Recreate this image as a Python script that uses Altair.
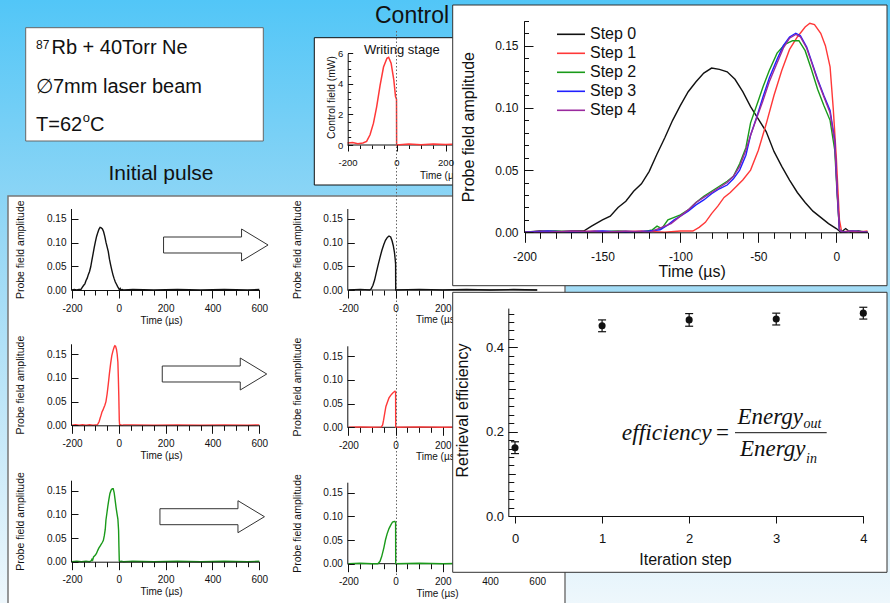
import altair as alt
import pandas as pd

W, H = 890, 603

# ---------------- data ----------------
STEP_LABELS = ["Step 0", "Step 1", "Step 2", "Step 3", "Step 4"]
STEP_COLORS = ["#111111", "#ff3838", "#1a9a1a", "#2020ff", "#9a2a9e"]

S0_T = [-200, -190, -180, -170, -162, -157, -150, -145, -140, -135, -130, -125, -120, -115, -110, -105,
        -100, -95, -90, -85, -80, -75, -70, -65, -60, -55, -50, -45, -40, -35, -30, -25, -20, -15, -10,
        -5, 0, 3, 6, 9, 14, 20]
S0_V = [0.000, 0.001, 0.000, 0.001, 0.001, 0.005, 0.010, 0.013, 0.020, 0.025, 0.033, 0.039, 0.049, 0.063,
        0.076, 0.090, 0.102, 0.113, 0.121, 0.128, 0.132, 0.131, 0.129, 0.123, 0.113, 0.101, 0.091, 0.081,
        0.065, 0.053, 0.042, 0.032, 0.024, 0.017, 0.012, 0.007, 0.003, 0.000, 0.003, 0.000, 0.001, 0.000]

S1_T = [-200, -185, -170, -155, -140, -125, -110, -100, -92, -88, -84, -80, -76, -72, -68, -64, -60, -55,
        -50, -45, -40, -35, -30, -25, -20, -17, -14, -10, -7, -4, -2, 0, 1, 2, 3.5, 8, 14, 20]
S1_V = [0.000, 0.001, 0.000, 0.001, 0.000, 0.001, 0.000, 0.001, 0.001, 0.004, 0.008, 0.015, 0.021, 0.028,
        0.032, 0.037, 0.042, 0.050, 0.066, 0.087, 0.110, 0.130, 0.147, 0.157, 0.165, 0.168, 0.167, 0.160,
        0.150, 0.133, 0.100, 0.060, 0.035, 0.010, 0.000, 0.001, 0.000, 0.001]

S2_T = [-200, -180, -160, -140, -125, -118, -115, -112, -108, -104, -100, -95, -90, -85, -80, -75, -70,
        -66, -62, -58, -55, -50, -47, -43, -38, -33, -28, -24, -20, -16, -12, -8, -4, -1, 0.5, 2, 4, 10, 20]
S2_V = [0.000, 0.001, 0.000, 0.001, 0.000, 0.002, 0.005, 0.003, 0.010, 0.012, 0.014, 0.018, 0.024, 0.029,
        0.033, 0.037, 0.041, 0.045, 0.055, 0.068, 0.088, 0.106, 0.117, 0.130, 0.144, 0.151, 0.154, 0.154,
        0.146, 0.131, 0.115, 0.102, 0.090, 0.066, 0.031, 0.002, 0.000, 0.001, 0.000]

S3_T = [-200, -185, -170, -150, -135, -120, -113, -108, -104, -100, -95, -90, -85, -80, -75, -70, -66,
        -62, -58, -55, -51, -47, -43, -38, -34, -30, -26, -23, -19, -16, -12, -8, -4, -1, 0.5, 2, 4, 10, 20]
S3_V = [0.000, 0.001, 0.000, 0.001, 0.000, 0.001, 0.002, 0.006, 0.010, 0.013, 0.017, 0.022, 0.026, 0.031,
        0.035, 0.038, 0.043, 0.050, 0.062, 0.078, 0.093, 0.109, 0.124, 0.139, 0.150, 0.157, 0.160, 0.158,
        0.149, 0.138, 0.123, 0.110, 0.098, 0.074, 0.034, 0.002, 0.000, 0.001, 0.000]

S4_T = [-200, -185, -170, -150, -135, -120, -112, -106, -100, -95, -90, -85, -80, -75, -70, -66, -62,
        -58, -55, -51, -47, -43, -38, -34, -30, -26, -23, -19, -16, -12, -8, -4, -1, 0.5, 2, 4, 10, 20]
S4_V = [0.000, 0.000, 0.001, 0.000, 0.001, 0.000, 0.004, 0.007, 0.013, 0.018, 0.024, 0.028, 0.032, 0.036,
        0.040, 0.045, 0.053, 0.066, 0.078, 0.092, 0.106, 0.121, 0.136, 0.148, 0.156, 0.159, 0.157, 0.148,
        0.137, 0.122, 0.109, 0.096, 0.072, 0.034, 0.002, 0.000, 0.001, 0.000]

TAIL_T = [60, 150, 250, 350, 450, 550, 600]
TAIL_V = [0.001, 0.000, 0.001, 0.000, 0.001, 0.000, 0.001]

OUT0_T = [-200, -150, -110, -104, -96, -89, -82, -74, -66, -58, -50, -43, -35, -28, -21, -15, -10, -5, -2,
          0, 0.5, 100, 200, 300, 400, 500, 600]
OUT0_V = [0.000, 0.001, 0.000, 0.002, 0.010, 0.021, 0.036, 0.053, 0.069, 0.084, 0.096, 0.105, 0.111, 0.114,
          0.112, 0.104, 0.094, 0.080, 0.066, 0.055, 0.000, 0.001, 0.000, 0.001, 0.000, 0.001, 0.000]
OUT1_T = [-200, -150, -100, -60, -55, -51, -46, -41, -34, -28, -20, -13, -6, -3, 0, 0.5, 100, 200, 300,
          400, 500, 600]
OUT1_V = [0.000, 0.001, 0.000, 0.001, 0.005, 0.015, 0.030, 0.044, 0.054, 0.062, 0.068, 0.072, 0.075, 0.076,
          0.074, 0.000, 0.001, 0.000, 0.001, 0.000, 0.001, 0.000]
OUT2_T = [-200, -150, -100, -75, -66, -59, -50, -43, -36, -28, -20, -13, -6, -3, 0, 0.5, 100, 200, 300,
          400, 500, 600]
OUT2_V = [0.000, 0.001, 0.000, 0.000, 0.005, 0.015, 0.033, 0.050, 0.063, 0.074, 0.082, 0.088, 0.089, 0.089,
          0.087, 0.000, 0.001, 0.000, 0.001, 0.000, 0.001, 0.000]

CTRL_T = [-200, -179, -158, -137, -122, -108, -94, -81, -67, -53, -39, -32, -22, -11, -4, 0, 0.5, 50, 100,
          150, 200, 250, 300]
CTRL_V = [0.13, 0.17, 0.09, 0.13, 0.24, 0.67, 1.43, 2.5, 3.9, 5.1, 5.67, 5.74, 5.35, 4.26, 3.17, 3.0, 0.0,
          0.06, 0.02, 0.07, 0.03, 0.06, 0.03]

ITER = [0, 1, 2, 3, 4]
EFF = [0.162, 0.451, 0.465, 0.467, 0.481]
EFF_ERR = [0.014, 0.014, 0.015, 0.014, 0.014]

# ---------------- helpers ----------------
ONE = pd.DataFrame({"a": [0.0]})
SANS = "Liberation Sans"
SERIF = "Liberation Serif"
INK = "#111111"
RED = STEP_COLORS[1]
GREEN = STEP_COLORS[2]
INT_EXPR = "datum.value < 0 ? '-' + format(-datum.value, 'd') : format(datum.value, 'd')"
F2_EXPR = "format(datum.value, '.2f')"
F1_EXPR = "format(datum.value, '.1f')"


def qs(domain, rng):
    return alt.Scale(domain=domain, range=rng, nice=False, zero=False)


def rect(x0, x1, y0, y1, fill, stroke="transparent", sw=1.0):
    return alt.Chart(ONE).mark_rect(fill=fill, stroke=stroke, strokeWidth=sw).encode(
        x=alt.value(x0), x2=alt.value(x1), y=alt.value(y0), y2=alt.value(y1))


def label(txt, x, y, size, align="left", baseline="alphabetic", font=SANS, style="normal", color=INK):
    return alt.Chart(ONE).mark_text(text=txt, align=align, baseline=baseline, font=font, fontSize=size,
                                    fontStyle=style, color=color).encode(x=alt.value(x), y=alt.value(y))


def curve(t, v, xs, ys, color, sw=1.2):
    df = pd.DataFrame({"t": t, "v": v})
    return alt.Chart(df).mark_line(color=color, strokeWidth=sw).encode(
        x=alt.X("t:Q", scale=xs, axis=None), y=alt.Y("v:Q", scale=ys, axis=None))


def base_rule(xs, ys, x0, x1):
    df = pd.DataFrame({"x0": [x0], "x1": [x1], "y": [0.0]})
    return alt.Chart(df).mark_rule(color=INK, strokeWidth=1).encode(
        x=alt.X("x0:Q", scale=xs, axis=None), x2="x1:Q", y=alt.Y("y:Q", scale=ys, axis=None))


def xaxis(xs, ypix, **kw):
    return alt.Chart(ONE).mark_point(opacity=0).encode(
        x=alt.X("a:Q", scale=xs, axis=alt.Axis(orient="bottom", offset=ypix - H, zindex=1, **kw)),
        y=alt.value(-100))


def yaxis(ys, xpix, orient="left", **kw):
    off = -xpix if orient == "left" else xpix - W
    return alt.Chart(ONE).mark_point(opacity=0).encode(
        y=alt.Y("a:Q", scale=ys, axis=alt.Axis(orient=orient, offset=off, zindex=1, **kw)),
        x=alt.value(-100))


def ticks(values, size):
    return dict(values=values, ticks=True, tickSize=size, labels=False, domain=False, title="")


def labs(values, pad, fs, expr, domain=True, title="", **extra):
    return dict(values=values, ticks=False, tickSize=0, labelPadding=pad, labelFontSize=fs,
                labelExpr=expr, domain=domain, title=title, **extra)


layers = []
axes = []

# ---------------- background & info ----------------
grad = alt.LinearGradient(gradient="linear", x1=0, x2=0, y1=0, y2=1, stops=[
    alt.GradientStop(color="#52c6f7", offset=0),
    alt.GradientStop(color="#98d8f5", offset=0.4),
    alt.GradientStop(color="#eef7fc", offset=1)])
layers.append(rect(0, W, 0, H, grad))
layers.append(rect(25.7, 263.3, 27.7, 141, "white", "#666666", 1))
layers.append(label("87", 36, 49, 12))
layers.append(label("Rb + 40Torr Ne", 51.5, 54, 20))
layers.append(label("\u22057mm laser beam", 36, 92.7, 20))
layers.append(label("T=62", 36, 130.7, 20))
layers.append(label("o", 82.7, 121.5, 13))
layers.append(label("C", 90, 130.7, 20))
layers.append(label("Initial pulse", 161, 180, 21, align="center"))
layers.append(label("Control field", 375, 23.3, 23))

# ---------------- control (writing stage) panel ----------------
CX = qs([-200, 600], [347.5, 543.5])
CY = qs([0, 6], [145, 53.3])
layers.append(rect(314.3, 470, 37.7, 185, "white", INK, 1))
layers.append(base_rule(CX, CY, -200, 600))
layers.append(curve(CTRL_T, CTRL_V, CX, CY, RED, 1.5))
layers.append(label("Writing stage", 401.8, 54, 13, align="center"))
layers.append(label("Time (\u00b5s)", 441, 176, 10, align="center", baseline="middle"))
axes.append(yaxis(CY, 347.7, "left", **labs([0, 2, 4, 6], 5, 9.5, INT_EXPR, title="Control field (mW)",
                                          titleFontSize=10.3, titleX=-16, titleY=97, titleAngle=270,
                                          titleBaseline="middle", titleAlign="center")))
axes.append(yaxis(CY, 347.7, "right", **ticks([0, 2, 4, 6], 5)))
axes.append(yaxis(CY, 347.7, "right", **ticks([0.5 * i for i in range(13)], 3)))
axes.append(xaxis(CX, 145, **labs([-200, 0, 200], 12.5, 9.5, INT_EXPR, domain=False)))
axes.append(xaxis(CX, 145, **ticks([-200, 0, 200], 6)))
axes.append(xaxis(CX, 145, **ticks([-200, -150, -100, -50, 0, 50, 100, 150, 200], 3.5)))

# ---------------- small panels ----------------
layers.append(rect(8, 565, 196, 610, "white", "#777777", 1.5))
LX = qs([-200, 600], [72, 259.3])
MX = qs([-200, 600], [348.4, 537.2])
LEFT_ZERO = [290, 425.3, 561.7]
MID_ZERO = [290, 427.3, 563.7]
IN_SERIES = [(S0_T, S0_V, STEP_COLORS[0]), (S1_T, S1_V, RED), (S2_T, S2_V, GREEN)]
OUT_SERIES = [(OUT0_T, OUT0_V, STEP_COLORS[0]), (OUT1_T, OUT1_V, RED), (OUT2_T, OUT2_V, GREEN)]
ARROWS = [(215.8, 245), (214.5, 374), (212.2, 516.7)]
ARROW_PATH = "M-1,-0.153L0.493,-0.153L0.493,-0.306L1,0L0.493,0.306L0.493,0.153L-1,0.153Z"
Y_TICKS = [0, 0.05, 0.10, 0.15]
X_MAJ = [-200, 0, 200, 400, 600]
X_MIN = [-200 + 50 * i for i in range(17)]

for r in range(3):
    zl, zm = LEFT_ZERO[r], MID_ZERO[r]
    LY = qs([0, 0.172], [zl, zl - 81.5])
    MY = qs([0, 0.172], [zm, zm - 81.5])
    t, v, c = IN_SERIES[r]
    layers.append(curve(t + TAIL_T, v + TAIL_V, LX, LY, c, 1.4))
    t, v, c = OUT_SERIES[r]
    layers.append(base_rule(MX, MY, -200, 600))
    layers.append(curve(t, v, MX, MY, c, 1.4))
    ax, ay = ARROWS[r]
    layers.append(alt.Chart(ONE).mark_point(shape=ARROW_PATH, size=10920, fill="white", stroke="#333333",
                                            strokeWidth=1, opacity=1, fillOpacity=1, strokeOpacity=1).encode(
        x=alt.value(ax), y=alt.value(ay)))
    # left column axes
    axes.append(yaxis(LY, 71, "left", **labs(Y_TICKS, 5, 10, F2_EXPR, title="Probe field amplitude",
                                             titleFontSize=10.5, titleX=-51, titleY=zl - 40.75,
                                             titleAngle=270, titleBaseline="middle", titleAlign="center")))
    axes.append(yaxis(LY, 71, "right", **ticks(Y_TICKS, 7)))
    axes.append(xaxis(LX, zl, **labs(X_MAJ, 13, 10, INT_EXPR, title="Time (\u00b5s)", titleFontSize=10,
                                     titleX=161, titleY=30, titleBaseline="middle", titleAlign="center")))
    axes.append(xaxis(LX, zl, **ticks(X_MAJ, 8)))
    axes.append(xaxis(LX, zl, **ticks(X_MIN, 5)))
    # middle column axes
    axes.append(yaxis(MY, 347.3, "left", **labs(Y_TICKS, 5, 10, F2_EXPR, title="Probe field amplitude",
                                                titleFontSize=10.5, titleX=-50, titleY=zm - 40.75,
                                                titleAngle=270, titleBaseline="middle", titleAlign="center")))
    axes.append(yaxis(MY, 347.3, "right", **ticks(Y_TICKS, 7)))
    if r == 2:
        axes.append(xaxis(MX, zm, **labs(X_MAJ, 13, 10, INT_EXPR, domain=False, title="Time (\u00b5s)",
                                         titleFontSize=10, titleX=437, titleY=30, titleBaseline="middle",
                                         titleAlign="center")))
    else:
        axes.append(xaxis(MX, zm, **labs([-200, 0, 200], 13, 10, INT_EXPR, domain=False)))
        layers.append(label("Time (\u00b5s)", 437, zm + 30, 10, align="center", baseline="middle"))
    axes.append(xaxis(MX, zm, **ticks([-200, 0, 200], 8)))
    axes.append(xaxis(MX, zm, **ticks([-200, -150, -100, -50, 0, 50, 100, 150, 200], 5)))

# dotted time-zero marker
layers.append(alt.Chart(ONE).mark_rule(color="#666666", strokeWidth=1, strokeDash=[1.5, 2]).encode(
    x=alt.X("a:Q", scale=CX, axis=None), y=alt.value(31), y2=alt.value(575)))

# ---------------- big pulse-shape panel ----------------
BX = qs([-200, 20], [524.5, 867.5])
BY = qs([0, 0.17], [232.3, 20.8])
layers.append(rect(452.7, 887, 5, 285.7, "white", "#333333", 1))
steps_df = pd.concat([
    pd.DataFrame({"t": t, "v": v, "step": s})
    for (t, v), s in zip([(S0_T, S0_V), (S1_T, S1_V), (S2_T, S2_V), (S3_T, S3_V), (S4_T, S4_V)], STEP_LABELS)
], ignore_index=True)
step_color = alt.Scale(domain=STEP_LABELS, range=STEP_COLORS)
layers.append(alt.Chart(steps_df).mark_line(strokeWidth=1.4).encode(
    x=alt.X("t:Q", scale=BX, axis=None), y=alt.Y("v:Q", scale=BY, axis=None),
    color=alt.Color("step:N", scale=step_color, legend=None)))
leg_df = pd.DataFrame({"step": STEP_LABELS})
leg_y = alt.Scale(type="point", domain=STEP_LABELS, range=[34.3, 110.3], padding=0)
layers.append(alt.Chart(leg_df).mark_rule(strokeWidth=1.6).encode(
    x=alt.value(557), x2=alt.value(585), y=alt.Y("step:N", scale=leg_y, axis=None),
    color=alt.Color("step:N", scale=step_color, legend=None)))
layers.append(alt.Chart(leg_df).mark_text(align="left", baseline="middle", font=SANS, fontSize=16,
                                          color=INK).encode(
    x=alt.value(590), y=alt.Y("step:N", scale=leg_y, axis=None), text="step:N"))
axes.append(yaxis(BY, 524, "left", **labs(Y_TICKS, 6, 12, F2_EXPR, title="Probe field amplitude",
                                          titleFontSize=16, titleX=-55.7, titleY=126.7, titleAngle=270,
                                          titleBaseline="middle", titleAlign="center")))
axes.append(yaxis(BY, 524, "right", **ticks(Y_TICKS, 9)))
axes.append(yaxis(BY, 524, "right", **ticks([round(0.01 * i, 2) for i in range(18)], 4.5)))
axes.append(xaxis(BX, 232.3, **labs([-200, -150, -100, -50, 0], 19, 12, INT_EXPR, title="Time (\u00b5s)",
                                    titleFontSize=16, titleX=691.7, titleY=39.4, titleBaseline="middle",
                                    titleAlign="center")))
axes.append(xaxis(BX, 232.3, **ticks([-200, -150, -100, -50, 0], 10)))
axes.append(xaxis(BX, 232.3, **ticks([-200 + 10 * i for i in range(23)], 6)))

# ---------------- efficiency panel ----------------
EX = qs([-0.077, 4], [508.3, 863.3])
EY = qs([0, 0.493], [516, 308.1])
layers.append(rect(452.7, 887, 292.3, 572.3, "white", "#333333", 1))
eff_df = pd.DataFrame({"it": ITER, "eff": EFF,
                       "lo": [e - d for e, d in zip(EFF, EFF_ERR)],
                       "hi": [e + d for e, d in zip(EFF, EFF_ERR)]})
layers.append(alt.Chart(eff_df).mark_rule(color=INK, strokeWidth=1.2).encode(
    x=alt.X("it:Q", scale=EX, axis=None), y=alt.Y("lo:Q", scale=EY, axis=None), y2="hi:Q"))
for col in ["lo", "hi"]:
    layers.append(alt.Chart(eff_df).mark_tick(orient="horizontal", size=8, thickness=1.2, color=INK,
                                              opacity=1).encode(
        x=alt.X("it:Q", scale=EX, axis=None), y=alt.Y(f"{col}:Q", scale=EY, axis=None)))
layers.append(alt.Chart(eff_df).mark_circle(size=50, color=INK, opacity=1).encode(
    x=alt.X("it:Q", scale=EX, axis=None), y=alt.Y("eff:Q", scale=EY, axis=None)))
layers.append(label("efficiency", 621.7, 440, 23.5, font=SERIF, style="italic"))
layers.append(label("=", 722.5, 440, 23, align="center", font=SERIF))
layers.append(label("Energy", 737.5, 424.3, 23, font=SERIF, style="italic"))
layers.append(label("out", 803.5, 428, 14, font=SERIF, style="italic"))
layers.append(label("Energy", 740, 456.3, 23, font=SERIF, style="italic"))
layers.append(label("in", 806, 462.7, 14, font=SERIF, style="italic"))
layers.append(alt.Chart(ONE).mark_rule(color=INK, strokeWidth=1).encode(
    x=alt.value(735), x2=alt.value(826.7), y=alt.value(432.7)))
axes.append(yaxis(EY, 508.3, "left", **labs([0, 0.2, 0.4], 4.7, 13, F1_EXPR, title="Retrieval efficiency",
                                            titleFontSize=16, titleX=-45.8, titleY=410, titleAngle=270,
                                            titleBaseline="middle", titleAlign="center")))
axes.append(yaxis(EY, 508.3, "right", **ticks([0, 0.2, 0.4], 9)))
axes.append(yaxis(EY, 508.3, "right", **ticks([0.1, 0.3], 7)))
axes.append(yaxis(EY, 508.3, "right", **ticks([round(0.02 * i, 2) for i in range(25)], 5.5)))
axes.append(xaxis(EX, 516, **labs(ITER, 16, 13, INT_EXPR, title="Iteration step", titleFontSize=16,
                                  titleX=685, titleY=43, titleBaseline="middle", titleAlign="center")))
axes.append(xaxis(EX, 516, **ticks(ITER, 7)))

chart = alt.layer(*(layers + axes)).resolve_scale(
    x="independent", y="independent", color="independent"
).resolve_axis(x="independent", y="independent").properties(
    width=W, height=H, autosize=alt.AutoSizeParams(type="none"), padding=0, background="white"
).configure_axis(
    labelFont=SANS, titleFont=SANS, labelColor=INK, titleColor=INK, domainColor=INK, tickColor=INK,
    grid=False, labelFlush=False, labelOverlap=False, titleFontWeight="normal", domainWidth=1, tickWidth=1
).configure_view(stroke="transparent")

chart.save("out.html", embed_options={"renderer": "svg", "actions": False})
